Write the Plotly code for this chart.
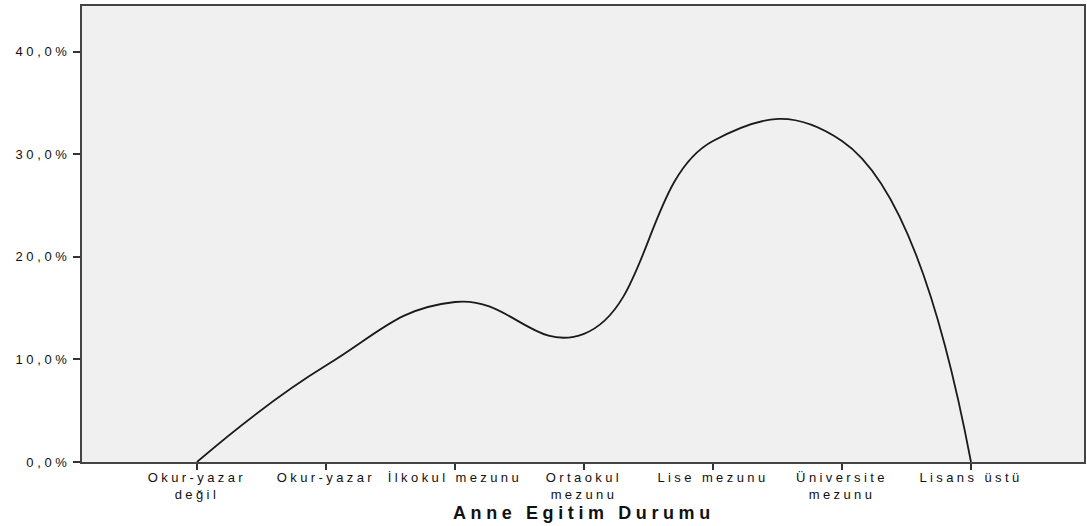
import plotly.graph_objects as go

categories = ["Okur-yazar\ndeğil", "Okur-yazar", "İlkokul mezunu", "Ortaokul\nmezunu",
              "Lise mezunu", "Üniversite\nmezunu", "Lisans üstü"]
percent = [0.0, 9.4, 15.6, 12.5, 31.3, 31.3, 0.0]
y_ticks = [0, 10, 20, 30, 40]
y_tick_labels = ["0,0%", "10,0%", "20,0%", "30,0%", "40,0%"]
x_title = "Anne Egitim Durumu"


def spaced(text, px):
    return "<br>".join(
        '<span style="letter-spacing:%spx">%s</span>' % (px, line)
        for line in text.split("\n")
    )


xpos = list(range(len(categories)))

fig = go.Figure()
fig.add_trace(go.Scatter(
    x=xpos, y=percent, mode="lines",
    line=dict(color="#1a1a1a", width=1.8, shape="spline", smoothing=1.3),
    hoverinfo="skip", showlegend=False,
))

fig.update_layout(
    width=1087, height=526,
    margin=dict(l=82, r=3, t=6, b=64),
    paper_bgcolor="white", plot_bgcolor="#f0f0f0",
    font=dict(family="Liberation Sans, Arial, sans-serif", size=13, color="#111"),
)
fig.update_xaxes(
    range=[-0.891, 6.876], tickvals=xpos,
    ticktext=[spaced(c, 3.4) for c in categories],
    ticks="outside", ticklen=6, tickwidth=2, tickcolor="#333",
    showline=True, linecolor="#444", linewidth=2, mirror=True,
    showgrid=False, zeroline=False, automargin=False,
    tickfont=dict(size=13), ticklabelstandoff=-4,
)
fig.update_yaxes(
    range=[0, 44.46], tickvals=y_ticks,
    ticktext=[spaced(t, 3.6) for t in y_tick_labels],
    ticks="outside", ticklen=7, tickwidth=2, tickcolor="#333",
    showline=True, linecolor="#444", linewidth=2, mirror=True,
    showgrid=False, zeroline=False, automargin=False,
    tickfont=dict(size=13), ticklabelstandoff=0,
)
fig.add_annotation(
    text="<b>" + spaced(x_title, 4.6) + "</b>", xref="paper", yref="paper",
    x=0.501, y=-0.1118,
    xanchor="center", yanchor="middle", showarrow=False,
    font=dict(size=18, color="#111"),
)

fig.write_html("out.html", config={"displayModeBar": False},
               post_script="document.body.style.margin='0';")
